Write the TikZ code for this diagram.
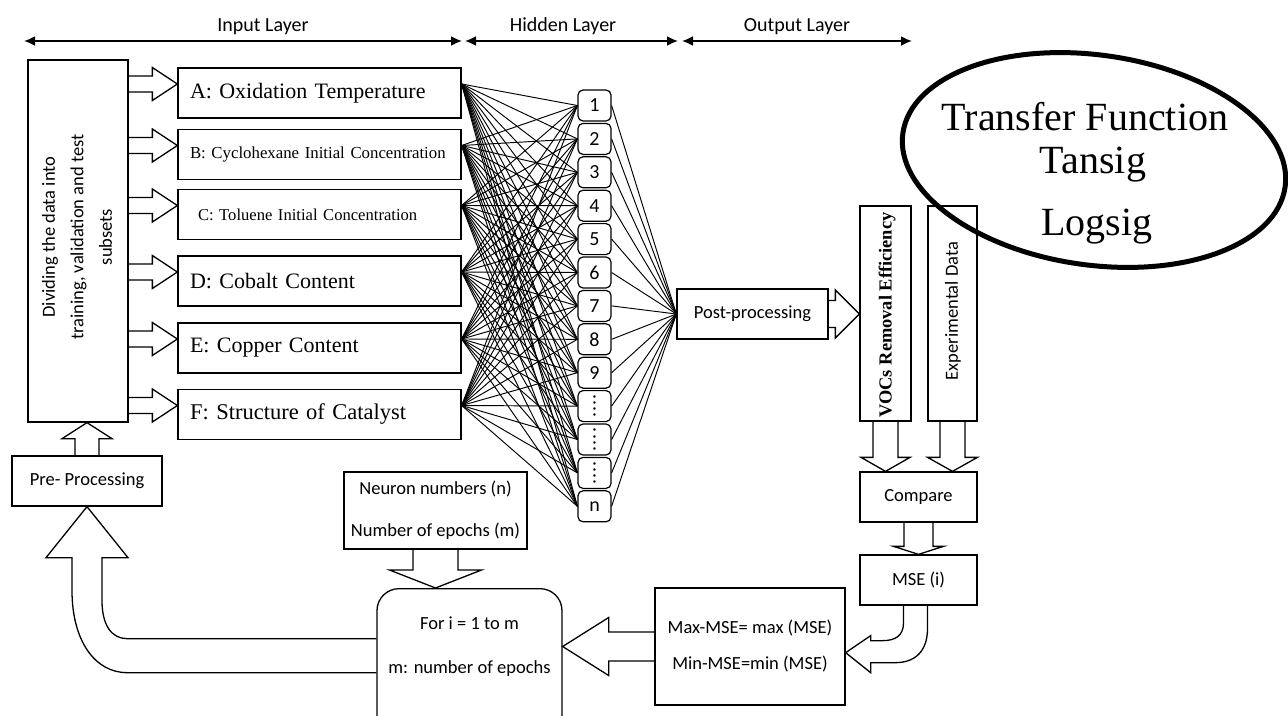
\documentclass[tikz,border=0pt]{standalone}
\usepackage{fontspec}
\setmainfont{Liberation Serif}
\newfontfamily\sansf{Carlito}
\usetikzlibrary{arrows.meta,calc}
\newcommand\blkR[5]{\draw[blk] let \p1=(#1),\p2=(#2) in (\x1,\y1+#3pt) -- (\x2-#5pt,\y1+#3pt) -- (\x2-#5pt,\y1+#4pt) -- (\x2,\y1) -- (\x2-#5pt,\y1-#4pt) -- (\x2-#5pt,\y1-#3pt) -- (\x1,\y1-#3pt);}
\newcommand\blkL[5]{\draw[blk] let \p1=(#1),\p2=(#2) in (\x1,\y1+#3pt) -- (\x2+#5pt,\y1+#3pt) -- (\x2+#5pt,\y1+#4pt) -- (\x2,\y1) -- (\x2+#5pt,\y1-#4pt) -- (\x2+#5pt,\y1-#3pt) -- (\x1,\y1-#3pt);}
\newcommand\blkD[5]{\draw[blk] let \p1=(#1),\p2=(#2) in (\x1-#3pt,\y1) -- (\x1-#3pt,\y2+#5pt) -- (\x1-#4pt,\y2+#5pt) -- (\x1,\y2) -- (\x1+#4pt,\y2+#5pt) -- (\x1+#3pt,\y2+#5pt) -- (\x1+#3pt,\y1);}
\newcommand\blkU[5]{\draw[blk] let \p1=(#1),\p2=(#2) in (\x1-#3pt,\y1) -- (\x1-#3pt,\y2-#5pt) -- (\x1-#4pt,\y2-#5pt) -- (\x1,\y2) -- (\x1+#4pt,\y2-#5pt) -- (\x1+#3pt,\y2-#5pt) -- (\x1+#3pt,\y1);}
\newcommand\vdotsrot{\rotatebox{90}{{.}\kern1pt{.}\kern1pt{.}\kern1pt{.}}}
\begin{document}
\begin{tikzpicture}[x=1pt,y=-1pt,
  box/.style={draw,line width=1.3pt,inner sep=0pt},
  sfont/.style={font=\sansf\fontsize{18.5}{22}\selectfont},
  inbox/.style={box,minimum height=50pt,text width=259pt,inner xsep=12pt,align=left},
  neuron/.style={draw,line width=1.2pt,rounded corners=5pt,minimum width=33pt,minimum height=31pt,inner sep=0pt,font=\sansf\fontsize{20}{22}\selectfont},
  wire/.style={line width=0.95pt},
  blk/.style={line width=1.3pt,line join=miter},
  toparrow/.style={line width=1.8pt,{Latex[length=11pt,width=10pt]}-{Latex[length=11pt,width=10pt]}},
  toplabel/.style={font=\sansf\fontsize{20}{24}\selectfont}
]
\useasboundingbox (0,0) rectangle (1288,715);
\clip (0,0) rectangle (1288,715);

% top layer arrows
\coordinate (t0) at (24,41);
\coordinate (t1) at (462,41);
\coordinate (t1b) at (465,41);
\coordinate (t2) at (678,41);
\coordinate (t2b) at (682,41);
\coordinate (t3) at (912,41);
\draw[toparrow] (t0) -- (t1);
\draw[toparrow] (t1b) -- (t2);
\draw[toparrow] (t2b) -- (t3);
\node[toplabel,anchor=base] (lin) at (263,31) {Input Layer};
\node[toplabel,anchor=base] (lhid) at (563,31) {Hidden Layer};
\node[toplabel,anchor=base] (lout) at (797,31) {Output Layer};

% dividing box
\node[box,minimum width=100pt,minimum height=362pt] (div) at (78,241) {};
\node[font=\sansf\fontsize{18.5}{28.5}\selectfont,rotate=90,align=center] (divt) at (77,237)
  {Dividing the data into\\training, validation and test\\subsets};

% input boxes
\node[inbox,font=\fontsize{22}{26}\selectfont] (A) at (319.5,93) {A: Oxidation Temperature};
\node[inbox,font=\fontsize{16.8}{20}\selectfont] (B) at (319.5,154.5) {B: Cyclohexane Initial Concentration};
\node[inbox,font=\fontsize{16.6}{20}\selectfont] (C) at (319.5,214.5) {\hspace*{8pt}C: Toluene Initial Concentration};
\node[inbox,font=\fontsize{22}{26}\selectfont] (D) at (319.5,281) {D: Cobalt Content};
\node[inbox,font=\fontsize{22}{26}\selectfont] (E) at (319.5,348) {E: Copper Content};
\node[inbox,font=\fontsize{22.5}{26}\selectfont] (F) at (319.5,414.5) {F: Structure of Catalyst};

\foreach \s in {A,B,C,D,E,F}{
  \coordinate (i\s) at ($(\s.east)+(0,-9)$);
  \blkR{div.east |- i\s}{\s.west}{8}{16.5}{25}
}

% hidden neurons
\foreach \i/\t in {1/1,2/2,3/3,4/4,5/5,6/6,7/7,8/8,9/9,10/\vdotsrot,11/\vdotsrot,12/\vdotsrot,13/n}{
  \node[neuron] (h\i) at (594.5,{105.5+(\i-1)*33.4}) {\t};
}

% post-processing
\node[box,sfont,minimum width=151pt,minimum height=50pt] (post) at (752.5,314) {Post-processing};

\foreach \s in {A,B,C,D,E,F}{
  \foreach \i in {1,...,13}{
    \draw[wire] (i\s) -- (h\i.west);
  }
}
\foreach \i in {1,...,13}{
  \draw[wire] (h\i.east) -- (post.west);
}

% output boxes
\node[box,minimum width=51pt,minimum height=215pt] (vocs) at (885.5,313.5) {};
\node[font=\bfseries\fontsize{18.4}{22}\selectfont,rotate=90] (vocst) at (887,315) {VOCs Removal Efficiency};
\node[box,minimum width=49pt,minimum height=215pt] (exp) at (952.5,313.5) {};
\node[sfont,rotate=90] (expt) at (953,311) {Experimental Data};

\node[box,sfont,minimum width=117pt,minimum height=50pt] (cmp) at (918.5,497) {Compare};
\node[box,sfont,minimum width=117pt,minimum height=50pt] (mse) at (918.5,580) {MSE (i)};

\node[box,sfont,minimum width=190pt,minimum height=117pt,align=center] (mm) at (750,646.5)
  {Max-MSE= max (MSE)\\[14pt]Min-MSE=min (MSE)};
\node[box,sfont,minimum width=183pt,minimum height=77pt,align=center] (nb) at (435.5,510.5)
  {Neuron numbers (n)\\[20pt]Number of epochs (m)};
\node[box,rounded corners=22pt,minimum width=185pt,minimum height=150pt,anchor=north] (fb) at (469.5,588) {};
\node[sfont,align=center] (fbt) at (469.5,647) {For i = 1 to m\\[22pt]m: number of epochs};

\node[box,sfont,minimum width=150pt,minimum height=50pt] (pre) at (87,481) {Pre- Processing};

% block arrows
\blkR{post.east}{vocs.west}{13.5}{24}{24}
\blkD{vocs.south}{cmp.north}{12.5}{24.5}{14}
\blkD{exp.south}{cmp.north}{12.5}{25}{14}
\blkD{cmp.south}{mse.north}{14.5}{25}{8}
\blkL{mm.west}{fb.east}{14.5}{29}{46}
\blkD{nb.south}{fb.north}{22.5}{46}{18}
\blkU{pre.north}{div.south}{12}{25}{16}

% curved arrow MSE -> Max-MSE box
\draw[blk] let \p1=(mse.south),\p2=(mm.east) in
  (\x1-15pt,\y1) -- (\x1-15pt,\y1-17pt) .. controls (\x1-15pt,\y1-30pt) and (\x1-23pt,\y1-35pt) .. (\x1-36pt,\y1-35pt)
  -- (\x2+25pt,\y1-35pt) -- (\x2+25pt,\y1-30pt) -- (\x2,\y1-47pt) -- (\x2+25pt,\y1-67pt) -- (\x2+25pt,\y1-57pt)
  -- (\x1-23pt,\y1-57pt) .. controls (\x1-3pt,\y1-57pt) and (\x1+9pt,\y1-45pt) .. (\x1+9pt,\y1-23pt) -- (\x1+9pt,\y1);

% big loop arrow For box -> Pre-Processing
\draw[blk] let \p1=(fb.west),\p2=(pre.south) in
  (\x1,\y1+25pt) -- (\x2+40pt,\y1+25pt) .. controls (\x2+25pt,\y1+25pt) and (\x2+15pt,\y1+38pt) .. (\x2+15pt,\y1+63pt)
  -- (\x2+15pt,\y2-51pt) -- (\x2+41pt,\y2-51pt) -- (\x2,\y2) -- (\x2-41pt,\y2-51pt) -- (\x2-15pt,\y2-51pt)
  -- (\x2-15pt,\y1+73pt) .. controls (\x2-15pt,\y1+23pt) and (\x2+8pt,\y1-9pt) .. (\x2+40pt,\y1-9pt) -- (\x1,\y1-9pt);

% transfer function ellipse
\draw[line width=5pt,rotate around={-8:(1094,160)}] (1094,160) ellipse [x radius=193pt,y radius=105pt];
\node[font=\fontsize{40}{46}\selectfont] (tf1) at (1085,117) {Transfer Function};
\node[font=\fontsize{40}{46}\selectfont] (tf2) at (1093,165) {Tansig};
\node[font=\fontsize{40}{46}\selectfont] (tf3) at (1097,227) {Logsig};
\end{tikzpicture}
\end{document}
